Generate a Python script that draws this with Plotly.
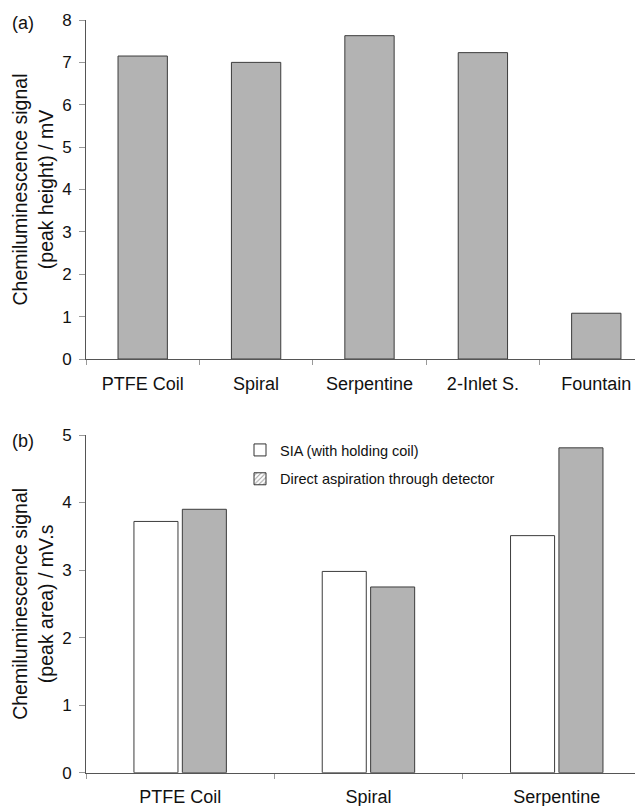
import plotly.graph_objects as go

# Panel (a)
cats_a = ["PTFE Coil", "Spiral", "Serpentine", "2-Inlet S.", "Fountain"]
peak_height = [7.15, 7.0, 7.63, 7.23, 1.08]

# Panel (b)
cats_b = ["PTFE Coil", "Spiral", "Serpentine"]
sia_area = [3.72, 2.98, 3.51]
direct_area = [3.90, 2.75, 4.81]
series_names = ["SIA (with holding coil)", "Direct aspiration through detector"]

OFF = 8  # page body margin
W, H = 643 - OFF, 806 - OFF
FONT = "Liberation Sans, Arial, sans-serif"
GRAY = "#b3b3b3"
EDGE = "#3c3c3c"
AX = "#555555"
TXT = "#111111"

def px(xp):
    return (xp - OFF) / W

def py(yp):
    return (H - (yp - OFF)) / H

fig = go.Figure()

fig.add_trace(go.Bar(x=cats_a, y=peak_height, width=0.435,
                     marker=dict(color=GRAY, line=dict(color=EDGE, width=1)),
                     xaxis="x", yaxis="y", showlegend=False))

fig.add_trace(go.Bar(x=cats_b, y=sia_area, name=series_names[0],
                     marker=dict(color="white", line=dict(color=EDGE, width=1)),
                     xaxis="x2", yaxis="y2", showlegend=False, offsetgroup="a"))
fig.add_trace(go.Bar(x=cats_b, y=direct_area, name=series_names[1],
                     marker=dict(color=GRAY, line=dict(color=EDGE, width=1)),
                     xaxis="x2", yaxis="y2", showlegend=False, offsetgroup="b"))

# legend-only entries mimic the original legend keys
fig.add_trace(go.Bar(x=[None], y=[None], name=series_names[0], legendgroup="g1",
                     marker=dict(color="white", line=dict(color="#333333", width=1)),
                     xaxis="x2", yaxis="y2", showlegend=True))
fig.add_trace(go.Bar(x=[None], y=[None], name=series_names[1], legendgroup="g2",
                     marker=dict(color="white", line=dict(color="#333333", width=1),
                                 pattern=dict(shape="/", fgcolor="#333333", size=4, solidity=0.3)),
                     xaxis="x2", yaxis="y2", showlegend=True))

x0 = px(86)

axis_common = dict(showline=True, linecolor=AX, linewidth=1, showgrid=False, zeroline=False,
                   ticks="outside", tickcolor="#999999", automargin=False)
xfont = dict(family=FONT, size=18, color=TXT)
yfont = dict(family=FONT, size=17, color=TXT)
tfont = dict(family=FONT, size=19.5, color=TXT)

fig.update_layout(
    width=W, height=H,
    margin=dict(l=0, r=0, t=0, b=0),
    paper_bgcolor="white", plot_bgcolor="white",
    font=dict(family=FONT, size=17, color=TXT),
    barmode="group", bargap=0.486, bargroupgap=0.09,
    xaxis=dict(domain=[x0, 1], anchor="y", type="category", range=[-0.5, 4.412],
               tickson="boundaries", ticklen=5, tickfont=xfont, ticklabelstandoff=8, **axis_common),
    yaxis=dict(domain=[py(359), py(20)], anchor="x", range=[0, 8], dtick=1,
               title=dict(text="Chemiluminescence signal<br>(peak height) / mV",
                          font=tfont, standoff=3),
               ticklen=6, tickfont=yfont, ticklabelstandoff=4, **axis_common),
    xaxis2=dict(domain=[x0, 1], anchor="y2", type="category", range=[-0.5, 2.458],
                tickson="boundaries", ticklen=5, tickfont=xfont, ticklabelstandoff=8, **axis_common),
    yaxis2=dict(domain=[py(772.7), py(435)], anchor="x2", range=[0, 5], dtick=1,
                title=dict(text="Chemiluminescence signal<br>(peak area) / mV.s",
                           font=tfont, standoff=3),
                ticklen=6, tickfont=yfont, ticklabelstandoff=4, **axis_common),
    legend=dict(x=px(240), y=py(434), xanchor="left", yanchor="top",
                bgcolor="rgba(0,0,0,0)", font=dict(family=FONT, size=14.5, color=TXT),
                itemwidth=30, tracegroupgap=7, traceorder="grouped"),
    annotations=[
        dict(text="(a)", x=px(10), y=py(23), xref="paper", yref="paper",
             xanchor="left", yanchor="middle", showarrow=False,
             font=dict(family=FONT, size=18, color=TXT)),
        dict(text="(b)", x=px(10), y=py(441), xref="paper", yref="paper",
             xanchor="left", yanchor="middle", showarrow=False,
             font=dict(family=FONT, size=18, color=TXT)),
    ],
)

fig.write_html("out.html")
